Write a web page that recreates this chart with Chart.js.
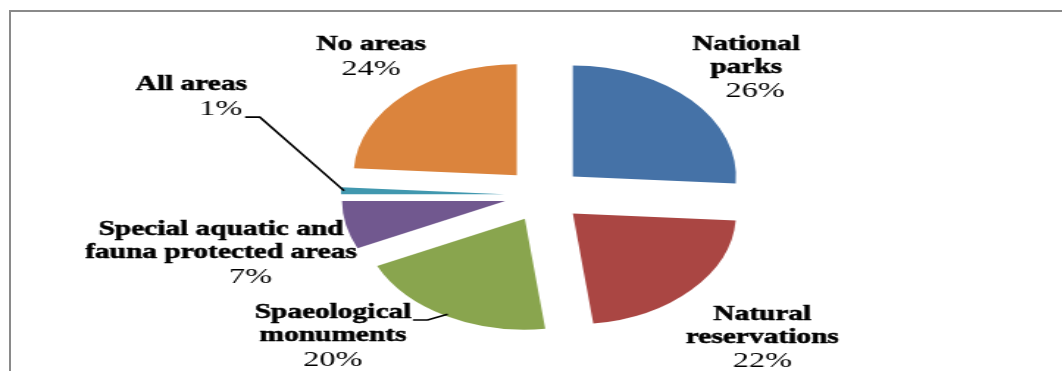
<!DOCTYPE html>
<html>
<head>
<meta charset="utf-8">
<script src="https://cdn.jsdelivr.net/npm/chart.js@4.4.0/dist/chart.umd.min.js"></script>
<style>
  html, body { margin: 0; padding: 0; background: #fff; }
  body { width: 1062px; height: 371px; overflow: hidden; position: relative; }
  #frame { position: absolute; left: 9px; top: 10px; right: -4px; bottom: -4px;
           border-left: 2px solid #8a8a8a; border-top: 2px solid #8a8a8a; }
  /* the whole chart is drawn narrow and stretched sideways */
  #stretch { position: absolute; left: 0; top: 0; transform: scaleX(1.47); transform-origin: 0 0; }
</style>
</head>
<body>
<div id="frame"></div>
<div id="stretch"><canvas id="pieChart" width="722" height="371"></canvas></div>
<script>
const categories = ['National parks', 'Natural reservations', 'Spaeological monuments',
  'Special aquatic and fauna protected areas', 'All areas', 'No areas'];
const shares = [26, 22, 20, 7, 1, 24];
const sliceColors = ['#4572a7', '#aa4643', '#89a54e', '#71588f', '#4198af', '#db843d'];
const labelLines = [['National', 'parks'], ['Natural', 'reservations'], ['Spaeological', 'monuments'],
  ['Special aquatic and', 'fauna protected areas'], ['All areas'], ['No areas']];

// label shift from the slice's outer middle point: dx, dy, extra dx for the % line
const labelShift = [[37, -33, 6], [48, 48, 0], [-77, 20, 0], [-85, 28, 20], [-102, -94, 20], [-23, -38, 0]];
const leaderLine = [false, false, true, false, true, false];

const PIE_R = 111;
const EXPLODE = 27;
const LINE_H = 23;
const SERIF = '"Liberation Serif", "Times New Roman", "DejaVu Serif", serif';

function pieCenter(chart) {
  const a = chart.chartArea;
  return { x: (a.left + a.right) / 2, y: (a.top + a.bottom) / 2 };
}

const pieLabels = {
  id: 'pieLabels',
  beforeDatasetsDraw(chart) {
    // pull every slice out from the middle by the same distance
    const c = pieCenter(chart);
    chart.getDatasetMeta(0).data.forEach(arc => {
      const mid = (arc.startAngle + arc.endAngle) / 2;
      arc.x = c.x + Math.cos(mid) * EXPLODE;
      arc.y = c.y + Math.sin(mid) * EXPLODE;
    });
  },
  afterDatasetsDraw(chart) {
    const ctx = chart.ctx;
    const arcs = chart.getDatasetMeta(0).data;
    arcs.forEach((arc, i) => {
      const mid = (arc.startAngle + arc.endAngle) / 2;
      // outer middle point of the pulled out slice
      const ox = arc.x + Math.cos(mid) * arc.outerRadius;
      const oy = arc.y + Math.sin(mid) * arc.outerRadius;
      const [dx, dy, pdx] = labelShift[i];
      const lines = labelLines[i];
      const cx = ox + dx;
      const top = oy + dy - lines.length * LINE_H / 2;

      ctx.save();
      ctx.fillStyle = '#000';
      ctx.strokeStyle = '#000';
      ctx.textAlign = 'center';
      ctx.textBaseline = 'middle';
      ctx.font = 'bold 20px ' + SERIF;
      ctx.lineWidth = 0.5;
      lines.forEach((t, k) => {
        ctx.fillText(t, cx, top + k * LINE_H);
        ctx.strokeText(t, cx, top + k * LINE_H);
      });
      const firstW = ctx.measureText(lines[0]).width;

      ctx.font = '22px ' + SERIF;
      const pct = shares[i] + '%';
      const py = top + lines.length * LINE_H + 1;
      ctx.fillText(pct, cx + pdx, py);
      const pctW = ctx.measureText(pct).width;

      if (leaderLine[i]) {
        let sx, sy;
        if (lines.length > 1) {
          sx = cx + firstW / 2 + 1;
          sy = top + 7;
        } else {
          sx = cx + pdx + pctW / 2 + 2;
          sy = py + 8;
        }
        ctx.lineWidth = 1.6;
        ctx.beginPath();
        ctx.moveTo(sx, sy);
        ctx.lineTo(sx + 10, sy);
        ctx.lineTo(ox - Math.cos(mid) * 2, oy - Math.sin(mid) * 2);
        ctx.stroke();
      }
      ctx.restore();
    });
  }
};

new Chart(document.getElementById('pieChart'), {
  type: 'pie',
  data: {
    labels: categories,
    datasets: [{
      data: shares,
      backgroundColor: sliceColors,
      borderWidth: 0
    }]
  },
  options: {
    responsive: false,
    animation: false,
    radius: PIE_R,
    layout: { padding: { left: 18, top: 19, right: 0, bottom: 0 } },
    events: [],
    plugins: {
      legend: { display: false },
      tooltip: { enabled: false }
    }
  },
  plugins: [pieLabels]
});
</script>
</body>
</html>
